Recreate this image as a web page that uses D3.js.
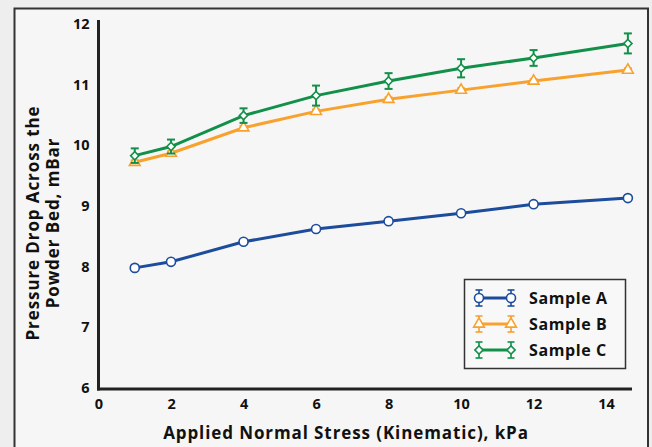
<!DOCTYPE html>
<html>
<head>
<meta charset="utf-8">
<script src="https://cdn.jsdelivr.net/npm/d3@7"></script>
<style>
  body { margin: 0; background: #eeeeee; }
  text { font-family: "Open Sans", "Noto Sans", sans-serif; font-weight: 700; fill: #111; }
</style>
</head>
<body>
<div id="chart"></div>
<script>
// chart values
var stress = [1, 2, 4, 6, 8, 10, 12, 14.6];
var sampleA = [7.98, 8.08, 8.41, 8.62, 8.75, 8.88, 9.03, 9.13];
var sampleB = [9.72, 9.87, 10.29, 10.56, 10.76, 10.91, 11.06, 11.24];
var sampleC = [9.83, 9.98, 10.49, 10.82, 11.06, 11.27, 11.44, 11.68];
var errA = [0.03, 0.03, 0.03, 0.03, 0.03, 0.03, 0.03, 0.03];
var errB = [0.03, 0.03, 0.03, 0.03, 0.03, 0.03, 0.03, 0.03];
var errC = [0.12, 0.115, 0.12, 0.165, 0.13, 0.15, 0.13, 0.165];
var seriesNames = ['Sample A', 'Sample B', 'Sample C'];
var xTicks = [0, 2, 4, 6, 8, 10, 12, 14];
var yTicks = [6, 7, 8, 9, 10, 11, 12];

var width = 652,
    height = 447;

var colors = ['#1c4c9b', '#f8a12c', '#12904a'];
var shapes = [d3.symbolCircle, d3.symbolTriangle, d3.symbolSquare];
var shapeSize = [64, 50, 34];
var shapeRotate = [0, 0, 45];

var series = [
  { name: seriesNames[0], values: sampleA, err: errA },
  { name: seriesNames[1], values: sampleB, err: errB },
  { name: seriesNames[2], values: sampleC, err: errC }
];

var xScale = d3.scaleLinear().domain([0, 14.7]).range([98.5, 631.5]);
var yScale = d3.scaleLinear().domain([6, 12]).range([388, 24]);

var svg = d3.select('#chart').append('svg')
    .attr('width', width)
    .attr('height', height);

// outer frame
svg.append('rect')
    .attr('x', 14.5).attr('y', 8.5)
    .attr('width', 633.5).attr('height', 460)
    .style('fill', '#f6f6f6')
    .style('stroke', '#333')
    .style('stroke-width', 2);

// axes
var xAxis = svg.append('g')
    .attr('transform', 'translate(0,389)')
    .call(d3.axisBottom(xScale).tickValues(xTicks).tickSize(0).tickPadding(10).tickFormat(d3.format('d')));
var yAxis = svg.append('g')
    .attr('transform', 'translate(98.5,0)')
    .call(d3.axisLeft(yScale).tickValues(yTicks).tickSize(0).tickPadding(9).tickFormat(d3.format('d')));

[xAxis, yAxis].forEach(function(g) {
  g.select('.domain').remove();
  g.selectAll('text')
      .style('font-size', '14.5px')
      .style('font-family', '"Open Sans", sans-serif')
      .style('font-weight', 700)
      .style('fill', '#111');
});

svg.append('line')
    .attr('x1', 98.5).attr('x2', 98.5).attr('y1', 20).attr('y2', 390.5)
    .style('stroke', '#222').style('stroke-width', 3);
svg.append('line')
    .attr('x1', 97).attr('x2', 632).attr('y1', 389).attr('y2', 389)
    .style('stroke', '#222').style('stroke-width', 3);

// axis titles
svg.append('text')
    .attr('x', 346).attr('y', 439)
    .attr('text-anchor', 'middle')
    .style('font-size', '17px')
    .style('letter-spacing', '0.9px')
    .text('Applied Normal Stress (Kinematic), kPa');

var yTitle = svg.append('text')
    .attr('transform', 'translate(39,223) rotate(-90)')
    .attr('text-anchor', 'middle')
    .style('font-size', '17px')
    .style('letter-spacing', '0.9px');
yTitle.append('tspan').attr('x', 0).attr('dy', 0).text('Pressure Drop Across the');
yTitle.append('tspan').attr('x', 0).attr('dy', 20).text('Powder Bed, mBar');

var line = d3.line()
    .x(function(d) { return xScale(d.x); })
    .y(function(d) { return yScale(d.y); });

series.forEach(function(s, i) {
  var pts = stress.map(function(x, j) { return { x: x, y: s.values[j], e: s.err[j] }; });
  var g = svg.append('g');

  g.append('path')
      .datum(pts)
      .attr('d', line)
      .style('fill', 'none')
      .style('stroke', colors[i])
      .style('stroke-width', 3);

  var eb = g.selectAll('.eb').data(pts).enter().append('g');
  eb.append('line')
      .attr('x1', function(d) { return xScale(d.x); })
      .attr('x2', function(d) { return xScale(d.x); })
      .attr('y1', function(d) { return yScale(d.y - d.e); })
      .attr('y2', function(d) { return yScale(d.y + d.e); })
      .style('stroke', colors[i]).style('stroke-width', 2);
  [-1, 1].forEach(function(sign) {
    eb.append('line')
        .attr('x1', function(d) { return xScale(d.x) - 4; })
        .attr('x2', function(d) { return xScale(d.x) + 4; })
        .attr('y1', function(d) { return yScale(d.y + sign * d.e); })
        .attr('y2', function(d) { return yScale(d.y + sign * d.e); })
        .style('stroke', colors[i]).style('stroke-width', 2);
  });

  g.selectAll('.mk').data(pts).enter().append('path')
      .attr('transform', function(d) {
        return 'translate(' + xScale(d.x) + ',' + yScale(d.y) + ') rotate(' + shapeRotate[i] + ')';
      })
      .attr('d', d3.symbol().type(shapes[i]).size(shapeSize[i]))
      .style('fill', '#fff')
      .style('stroke', colors[i])
      .style('stroke-width', 1.6);
});

// legend
var legend = svg.append('g');
legend.append('rect')
    .attr('x', 464.5).attr('y', 279.5)
    .attr('width', 161).attr('height', 89)
    .style('fill', '#f8f8f8')
    .style('stroke', '#333')
    .style('stroke-width', 1.5);

var legendRows = legend.selectAll('.row').data(series).enter().append('g')
    .attr('transform', function(d, i) { return 'translate(0,' + (298 + i * 26) + ')'; });

legendRows.each(function(d, i) {
  var r = d3.select(this);
  r.append('line').attr('x1', 479).attr('x2', 511).attr('y1', 0).attr('y2', 0)
      .style('stroke', colors[i]).style('stroke-width', 3);
  [479, 511].forEach(function(px) {
    r.append('line').attr('x1', px).attr('x2', px).attr('y1', -8).attr('y2', 8)
        .style('stroke', colors[i]).style('stroke-width', 1.6);
    r.append('line').attr('x1', px - 3.5).attr('x2', px + 3.5).attr('y1', -8).attr('y2', -8)
        .style('stroke', colors[i]).style('stroke-width', 1.6);
    r.append('line').attr('x1', px - 3.5).attr('x2', px + 3.5).attr('y1', 8).attr('y2', 8)
        .style('stroke', colors[i]).style('stroke-width', 1.6);
    r.append('path')
        .attr('transform', 'translate(' + px + ',0) rotate(' + shapeRotate[i] + ')')
        .attr('d', d3.symbol().type(shapes[i]).size(shapeSize[i]))
        .style('fill', '#fff').style('stroke', colors[i]).style('stroke-width', 1.6);
  });
  r.append('text')
      .attr('x', 529).attr('y', 0).attr('dy', '0.35em')
      .style('font-size', '16px')
      .style('letter-spacing', '0.6px')
      .text(d.name);
});
</script>
</body>
</html>
